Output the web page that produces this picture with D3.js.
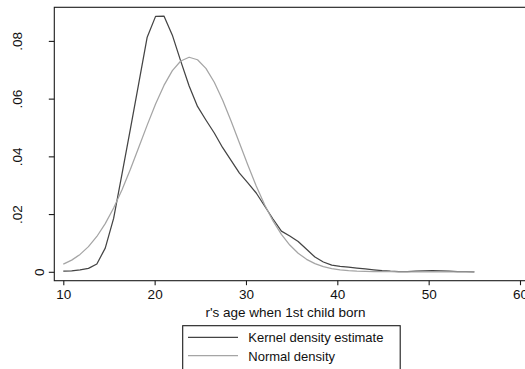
<!DOCTYPE html>
<html>
<head>
<meta charset="utf-8">
<script src="https://cdn.jsdelivr.net/npm/d3@7"></script>
<style>
  html, body { margin: 0; padding: 0; background: #fff; }
  svg { display: block; font-family: "Liberation Sans", Arial, Helvetica, sans-serif; }
</style>
</head>
<body>
<svg id="chart" width="525" height="369"></svg>
<script>
// Evaluation grid (50 points from 10 to 55)
const ages = [10.000, 10.918, 11.837, 12.755, 13.673, 14.592, 15.510, 16.429, 17.347, 18.265,
              19.184, 20.102, 21.020, 21.939, 22.857, 23.776, 24.694, 25.612, 26.531, 27.449,
              28.367, 29.286, 30.204, 31.122, 32.041, 32.959, 33.878, 34.796, 35.714, 36.633,
              37.551, 38.469, 39.388, 40.306, 41.224, 42.143, 43.061, 43.980, 44.898, 45.816,
              46.735, 47.653, 48.571, 49.490, 50.408, 51.327, 52.245, 53.163, 54.082, 55.000];

// Kernel density estimate of age at first birth
const kernelDensity = [0.0002, 0.0003, 0.0007, 0.0012, 0.0027, 0.0082, 0.0185, 0.0339, 0.0495, 0.0654,
                       0.0813, 0.0885, 0.0886, 0.0820, 0.0730, 0.0644, 0.0573, 0.0526, 0.0481, 0.0430,
                       0.0386, 0.0342, 0.0308, 0.0273, 0.0228, 0.0183, 0.0141, 0.0124, 0.0105, 0.0078,
                       0.0051, 0.0034, 0.0023, 0.0019, 0.0016, 0.0013, 0.0010, 0.0007, 0.0004, 0.0002,
                       0.0001, 0.0001, 0.0002, 0.0003, 0.0004, 0.0003, 0.0002, 0.0001, 0.0001, 0.0000];

// Normal density with matching mean and s.d.
const normalDensity = [0.00264, 0.00405, 0.00603, 0.00872, 0.01224, 0.01670, 0.02212, 0.02845, 0.03554, 0.04312,
                       0.05081, 0.05812, 0.06458, 0.06969, 0.07304, 0.07434, 0.07347, 0.07049, 0.06568, 0.05945,
                       0.05226, 0.04461, 0.03697, 0.02976, 0.02326, 0.01763, 0.01298, 0.00928, 0.00643, 0.00432,
                       0.00282, 0.00179, 0.00110, 0.00066, 0.00038, 0.00021, 0.00012, 0.00006, 0.00003, 0.00002,
                       0.00001, 0.00000, 0.00000, 0.00000, 0.00000, 0.00000, 0.00000, 0.00000, 0.00000, 0.00000];

const xTicks = [10, 20, 30, 40, 50, 60];
const yTicks = [0, 0.02, 0.04, 0.06, 0.08];
const xTitle = "r's age when 1st child born";
const legendLabels = ["Kernel density estimate", "Normal density"];

const svg = d3.select("#chart");
const x = d3.scaleLinear().domain([10, 60]).range([63.3, 520]);
const y = d3.scaleLinear().domain([0, 0.08]).range([271.8, 40.9]);

const frame = { left: 54.3, top: 7.3, right: 545, bottom: 280.7 };
const darkColor = "#444444";
const lightColor = "#a5a5a5";

// Plot region outline
svg.append("rect")
  .attr("x", frame.left).attr("y", frame.top)
  .attr("width", frame.right - frame.left).attr("height", frame.bottom - frame.top)
  .attr("fill", "none").attr("stroke", "#1a1a1a").attr("stroke-width", 1.1);

// X axis
const xAxis = svg.append("g")
  .attr("transform", `translate(0,${frame.bottom})`)
  .call(d3.axisBottom(x).tickValues(xTicks).tickSize(4.5).tickPadding(4).tickFormat(d3.format("d")));
xAxis.select(".domain").remove();
xAxis.selectAll("line").attr("stroke", "#1a1a1a").attr("stroke-width", 1.1);
xAxis.selectAll("text").attr("font-size", 13.5).attr("fill", "#111")
  .attr("font-family", "Liberation Sans, Arial, sans-serif");

// Y axis with vertical labels
const yFmt = d => d === 0 ? "0" : d3.format(".2f")(d).replace(/^0/, "");
const yAxis = svg.append("g")
  .attr("transform", `translate(${frame.left},0)`)
  .call(d3.axisLeft(y).tickValues(yTicks).tickSize(5.5).tickFormat(yFmt));
yAxis.select(".domain").remove();
yAxis.selectAll("line").attr("stroke", "#1a1a1a").attr("stroke-width", 1.1);
yAxis.selectAll("text")
  .attr("font-size", 13.5).attr("fill", "#111")
  .attr("font-family", "Liberation Sans, Arial, sans-serif")
  .attr("text-anchor", "middle")
  .attr("dy", null)
  .attr("x", null)
  .attr("transform", d => `translate(${(d === 0 ? 44 : 22) - frame.left},0) rotate(-90)`)
  .attr("y", 0);

// Axis title
svg.append("text")
  .attr("x", 285.5).attr("y", 317)
  .attr("text-anchor", "middle")
  .attr("font-size", 13.5).attr("fill", "#111")
  .text(xTitle);

// Density curves
const line = d3.line().x(d => x(d[0])).y(d => y(d[1]));
const series = [
  { values: kernelDensity, color: darkColor, width: 1.25 },
  { values: normalDensity, color: lightColor, width: 1.25 }
];
svg.append("g").selectAll("path")
  .data(series)
  .join("path")
  .attr("d", s => line(ages.map((a, i) => [a, s.values[i]])))
  .attr("fill", "none")
  .attr("stroke", s => s.color)
  .attr("stroke-width", s => s.width)
  .attr("stroke-linejoin", "round");

// Legend
const legend = svg.append("g");
legend.append("rect")
  .attr("x", 182.7).attr("y", 325.7).attr("width", 217.5).attr("height", 50)
  .attr("fill", "#fff").attr("stroke", "#1a1a1a").attr("stroke-width", 1.1);
const rows = legend.selectAll("g.row")
  .data(series.map((s, i) => ({ ...s, label: legendLabels[i] })))
  .join("g").attr("class", "row")
  .attr("transform", (d, i) => `translate(0,${337.3 + i * 18.4})`);
rows.append("line")
  .attr("x1", 188).attr("x2", 238).attr("y1", 0).attr("y2", 0)
  .attr("stroke", d => d.color).attr("stroke-width", d => d.width);
rows.append("text")
  .attr("x", 248.3).attr("y", 5)
  .attr("font-size", 13).attr("fill", "#111")
  .text(d => d.label);
</script>
</body>
</html>
